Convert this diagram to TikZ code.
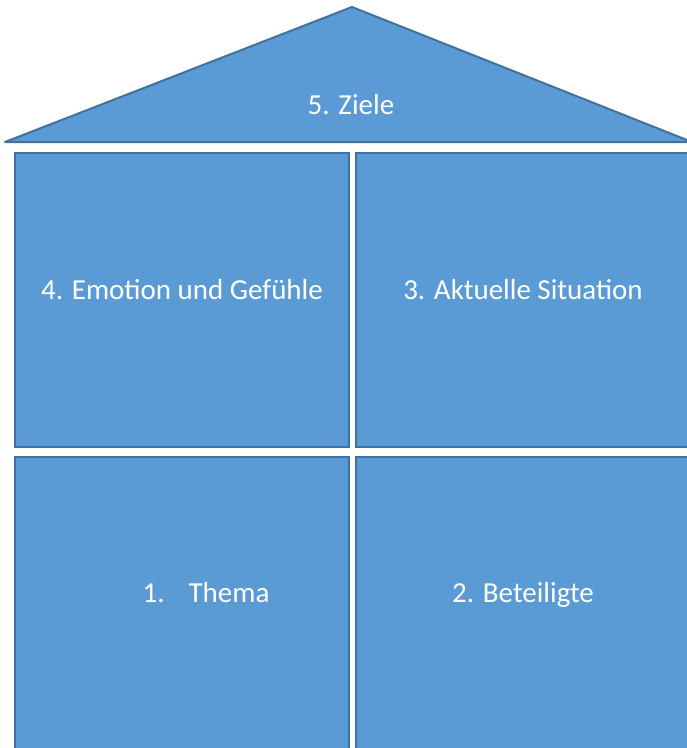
\documentclass[tikz,border=0pt]{standalone}
\usepackage{fontspec}
\setmainfont{Carlito}
\usetikzlibrary{positioning}
\definecolor{wallblue}{HTML}{5B9BD5}
\definecolor{walledge}{HTML}{41719C}
\tikzset{
    house/.style={
        x=1pt,y=-1pt,
        room/.append style={draw=walledge,fill=wallblue,line width=2pt,rectangle,minimum width=334pt,minimum height=294pt,inner sep=0pt},
        roof/.append style={draw=walledge,fill=wallblue,line width=2pt,line join=round},
        label/.append style={text=white,font=\fontsize{29}{34}\selectfont,inner sep=0pt,anchor=base}
    }
}

\begin{document}
\begin{tikzpicture}[house]
    \clip (0, 0) rectangle (687, 748);
    \coordinate (rl) at (5, 142);
    \coordinate (rt) at (352, 7);
    \coordinate (rr) at (692, 142);
    \draw[roof] (rl) -- (rt) -- (rr) -- cycle;
    \node[label] (ziele) at (351, 114) {5. Ziele};
    \node[room] (emo) at (182, 300) {};
    \node[room] (akt) at (523, 300) {};
    \node[room] (thema) at (182, 604) {};
    \node[room] (bet) at (523, 604) {};
    \node[label] at (182, 299) {4. Emotion und Gefühle};
    \node[label] at (523, 299) {3. Aktuelle Situation};
    \node[label] at (206, 602) {1.\hspace{24pt}Thema};
    \node[label] at (523, 602) {2. Beteiligte};
\end{tikzpicture}
\end{document}
